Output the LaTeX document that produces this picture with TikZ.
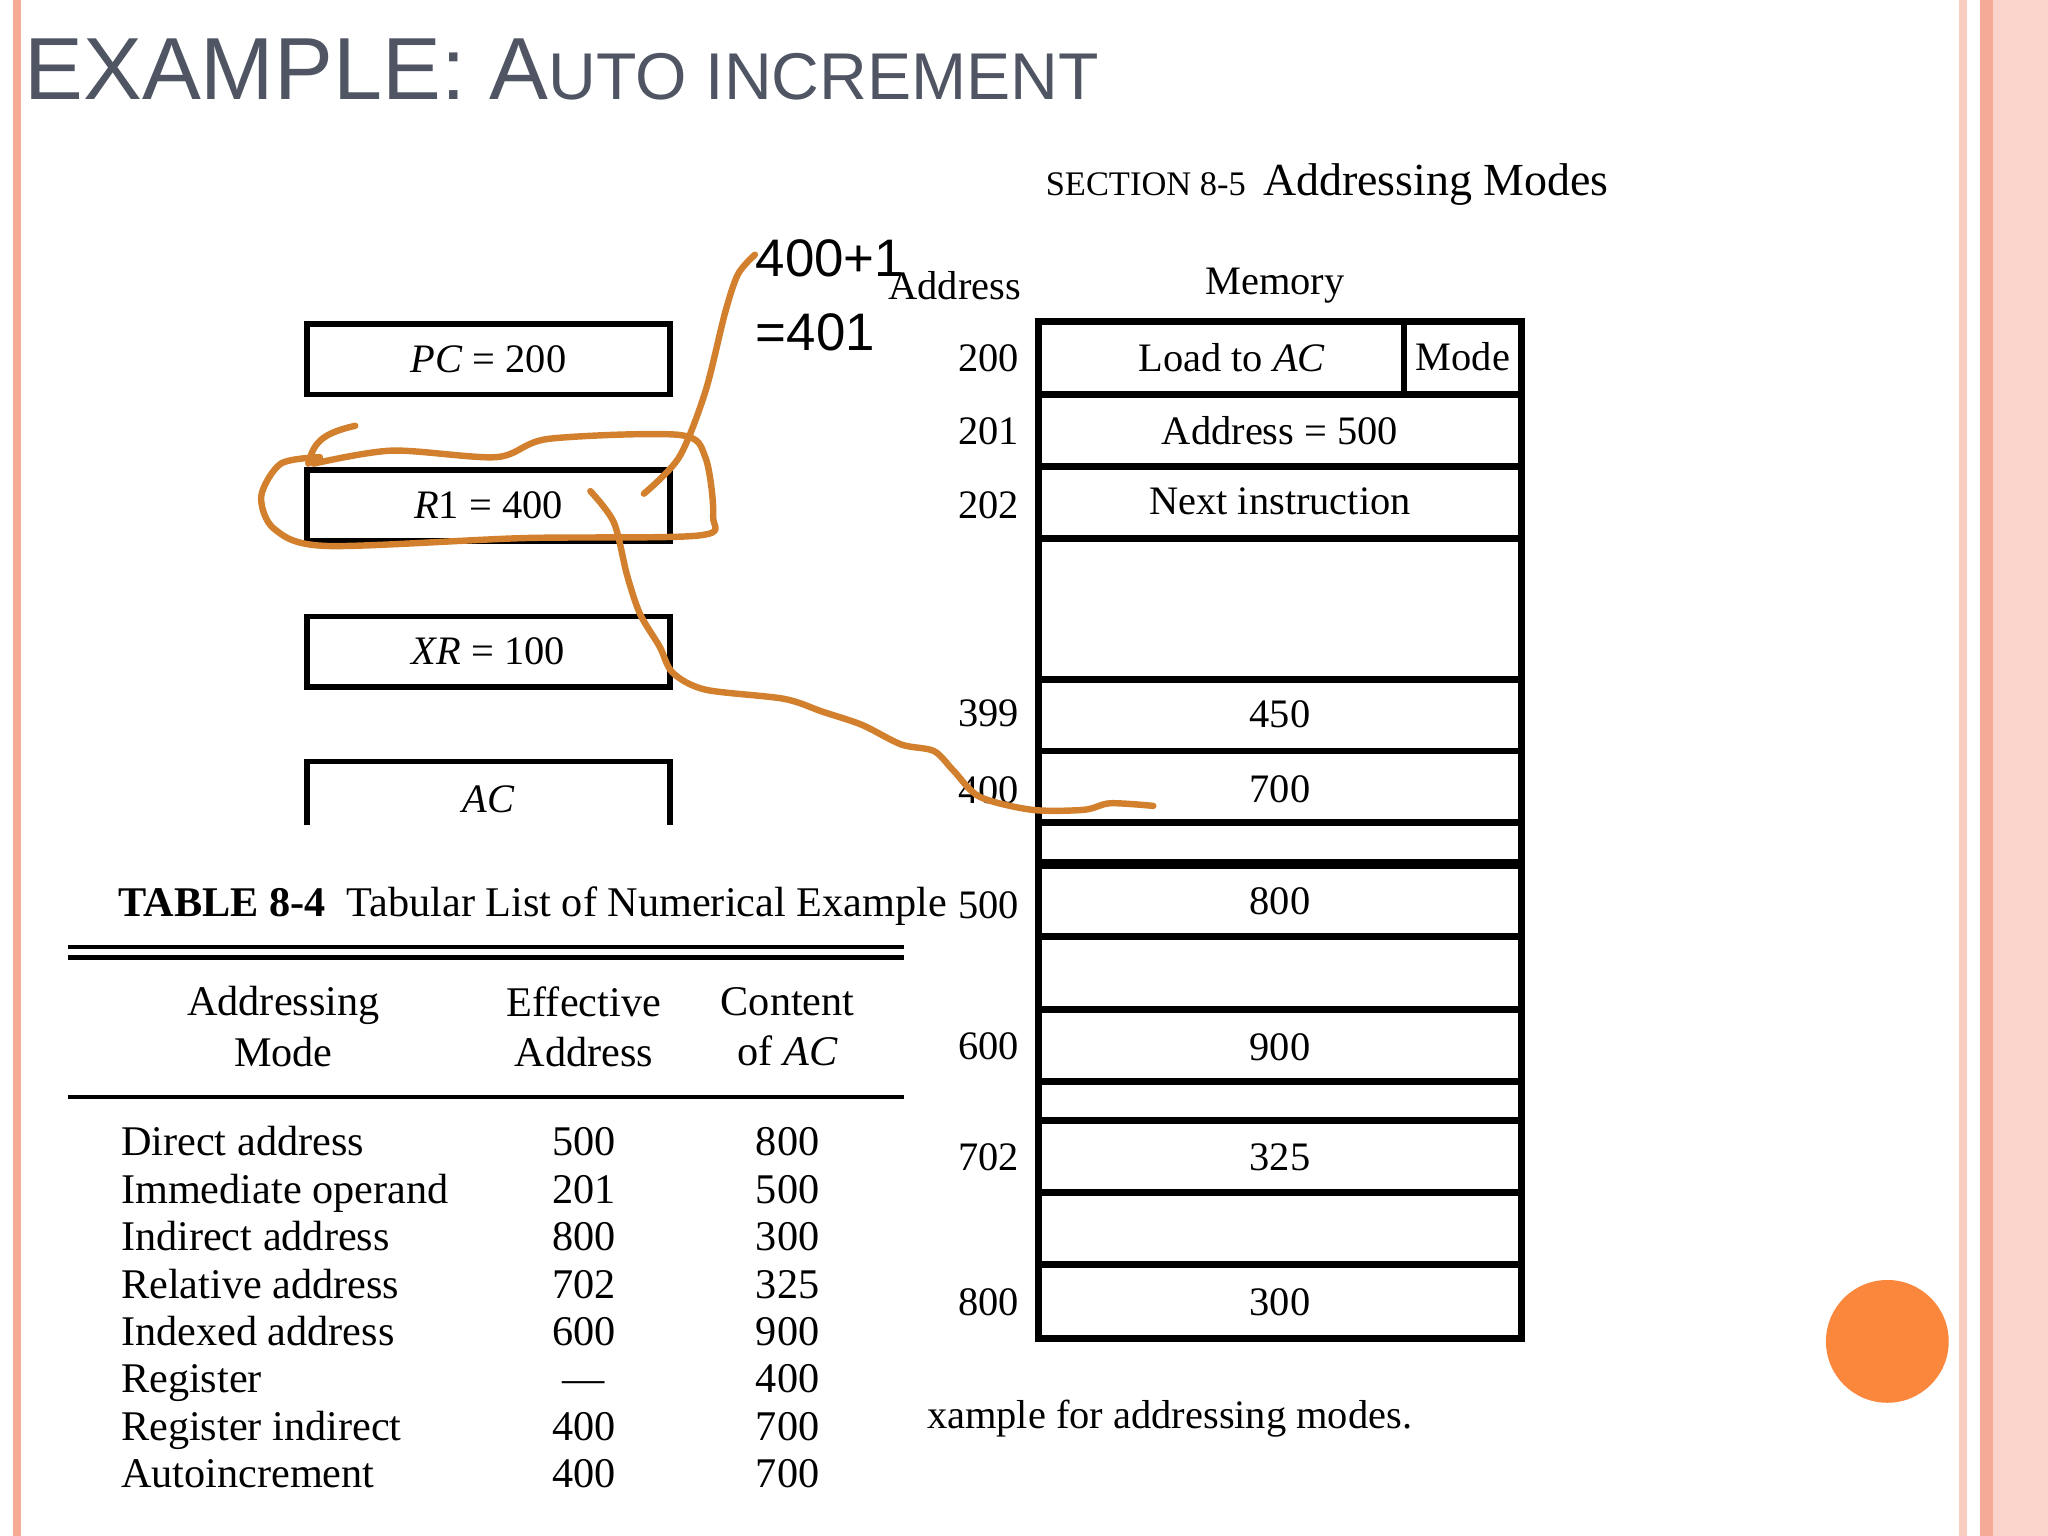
\documentclass[tikz,border=0pt]{standalone}
\usepackage{fontspec}
\setmainfont{Liberation Serif}
\newfontfamily\titlefont{Liberation Sans}
\begin{document}
\begin{tikzpicture}[x=0.01cm,y=-0.01cm,
  reg/.style={draw,line width=1.2pt,minimum width=2.78cm,minimum height=0.54cm,inner sep=0pt,font=\fontsize{8.8}{11}\selectfont},
  cell/.style={font=\fontsize{8.8}{11}\selectfont},
  lab/.style={font=\fontsize{8.8}{11}\selectfont},
  tb/.style={font=\fontsize{9.2}{10}\selectfont},
  hand/.style={draw=brown!70!orange,line width=1.4pt,line cap=round,line join=round}]
\definecolor{salmon}{RGB}{245,170,150}
\definecolor{titlegray}{RGB}{80,85,100}
\definecolor{dotorange}{RGB}{250,135,60}
\useasboundingbox (0,0) rectangle (1568,1176);
\fill[white] (0,0) rectangle (1568,1176);
% borders
\fill[salmon] (10,0) rectangle (16,1176);
\fill[salmon!60] (1500,0) rectangle (1506,1176);
\fill[salmon] (1516,0) rectangle (1526,1176);
\fill[salmon!50] (1526,0) rectangle (1568,1176);
\fill[dotorange] (1445,1027) circle (47);
% title
\node[anchor=base west,text=titlegray,inner sep=0pt] (title) at (18,76)
 {\titlefont\fontsize{19.2}{23}\selectfont EXAMPLE: A\fontsize{14.4}{17}\selectfont UTO INCREMENT};
\node[anchor=base west,inner sep=0pt] (sec) at (800,150)
 {\fontsize{7.5}{9}\selectfont SECTION 8-5\ \ \fontsize{10}{12}\selectfont Addressing Modes};
% registers
\node[reg] (pc) at (374,275) {\textit{PC} = 200};
\node[reg] (r1) at (374,387) {\textit{R}1 = 400};
\node[reg] (xr) at (374,499) {\textit{XR} = 100};
\draw[line width=1.2pt] (235,632) -- (235,583) -- (513,583) -- (513,632);
\node[lab] (ac) at (374,612) {\textit{AC}};
% memory
\node[lab] (addrh) at (731,219) {Address};
\node[lab] (memh) at (976,219) {Memory};
\draw[line width=1.5pt] (795,246) rectangle (1165,1025);
\foreach \y in {302,357,412,520,575,630,660,663,717,773,828,858,913,968}
  \draw[line width=1.5pt] (795,\y) -- (1165,\y);
\draw[line width=1.2pt] (1075,246) -- (1075,302);
\node[cell] (m200) at (943,274) {Load to \textit{AC}};
\node[cell] (mode) at (1120,273) {Mode};
\node[cell] (m201) at (980,330) {Address = 500};
\node[cell] (m202) at (980,384) {Next instruction};
\node[cell] (m399) at (980,547) {450};
\node[cell] (m400) at (980,604) {700};
\node[cell] (m500) at (980,690) {800};
\node[cell] (m600) at (980,802) {900};
\node[cell] (m702) at (980,886) {325};
\node[cell] (m800) at (980,997) {300};
\foreach \a/\y in {200/274,201/330,202/387,399/546,400/605,500/693,600/801,702/886,800/997}
  \node[lab] (a\a) at (757,\y) {\a};
\node[lab,anchor=west] (cap) at (708,1086) {\kern-3pt xample for addressing modes.};
% table
\node[anchor=base west,inner sep=0pt] (ttl) at (90,702)
 {\fontsize{9.2}{11}\selectfont\textbf{TABLE 8-4}\ \ Tabular List of Numerical Example};
\draw[line width=1pt] (52,725) -- (692,725);
\draw[line width=1pt] (52,733) -- (692,733);
\draw[line width=1pt] (52,840) -- (692,840);
\node[tb,align=center] (h1) at (217,786) {Addressing\\[1pt]Mode};
\node[tb,align=center] (h2) at (447,786) {Effective\\[1pt]Address};
\node[tb,align=center] (h3) at (603,786) {Content\\[1pt]of \textit{AC}};
\foreach \m/\e/\c [count=\i from 0] in {Direct address/500/800,Immediate operand/201/500,Indirect address/800/300,Relative address/702/325,Indexed address/600/900,Register/---/400,Register indirect/400/700,Autoincrement/400/700}{
  \node[tb,anchor=base west,inner sep=0pt] (r\i) at (92,885+36.3*\i) {\m};
  \node[tb,anchor=base,inner sep=0pt] (e\i) at (447,885+36.3*\i) {\e};
  \node[tb,anchor=base,inner sep=0pt] (c\i) at (603,885+36.3*\i) {\c};
}
% handwriting
\node[anchor=north west,inner sep=0pt,align=left,font=\titlefont\fontsize{11.5}{16}\selectfont] (note) at (578,183)
 {400+1\\=401};
\draw[hand] (272,326) .. controls (245,332) and (240,340) .. (236,355);
\draw[hand] plot[smooth] coordinates {(240,355) (300,345) (380,350) (420,336) (520,333) (540,350) (546,395) (535,410) (400,412) (250,418) (210,405) (200,380) (215,355) (245,350)};
\draw[hand] plot[smooth] coordinates {(493,378) (520,350) (540,300) (555,240) (565,210) (578,195)};
\draw[hand] plot[smooth] coordinates {(452,376) (470,400) (480,440) (490,470) (505,495) (515,515) (540,528) (600,535) (630,545) (660,555) (690,570) (715,575) (730,590) (750,610) (790,620) (830,620) (850,615) (883,617)};
\end{tikzpicture}
\end{document}
